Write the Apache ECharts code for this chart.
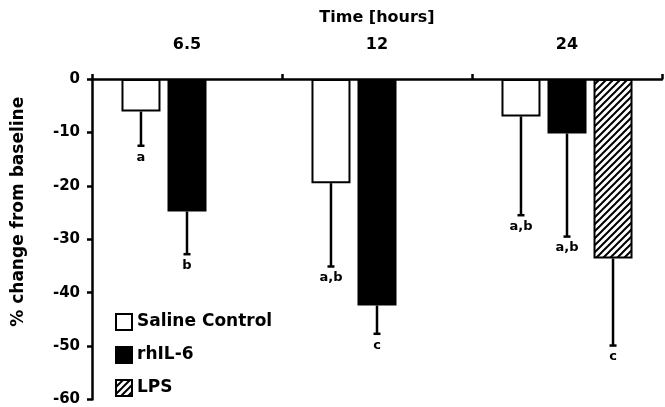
<!DOCTYPE html>
<html>
<head>
<meta charset="utf-8">
<script src="https://cdn.jsdelivr.net/npm/echarts@6/dist/echarts.min.js"></script>
<style>
html,body{margin:0;padding:0;background:#fff;}
#chart{width:665px;height:407px;}
</style>
</head>
<body>
<div id="chart"></div>
<script>
// ---- data ----
var categories = ['6.5', '12', '24'];
var seriesNames = ['Saline Control', 'rhIL-6', 'LPS'];
var salineMean = [-6.1, -19.5, -7.0];
var salineSE = [6.4, 15.6, 18.5];
var salineLetters = ['a', 'a,b', 'a,b'];
var rhil6Mean = [-24.8, -42.4, -10.2];
var rhil6SE = [8.0, 5.3, 19.3];
var rhil6Letters = ['b', 'c', 'a,b'];
var lpsMean = [null, null, -33.6];
var lpsSE = [null, null, 16.3];
var lpsLetters = [null, null, 'c'];
var yTicks = [0, -10, -20, -30, -40, -50, -60];

var FONT = 'DejaVu Sans';
var BAR_W = 39;
var BAR_GAP = 0.18;

// hatch pattern
function makeHatch() {
  var s = 7;
  var c = document.createElement('canvas');
  c.width = s; c.height = s;
  var ctx = c.getContext('2d');
  ctx.fillStyle = '#fff';
  ctx.fillRect(0, 0, s, s);
  ctx.strokeStyle = '#000';
  ctx.lineWidth = 2;
  ctx.beginPath();
  ctx.moveTo(-1, s + 1); ctx.lineTo(s + 1, -1);
  ctx.moveTo(-1, 1); ctx.lineTo(1, -1);
  ctx.moveTo(s - 1, s + 1); ctx.lineTo(s + 1, s - 1);
  ctx.stroke();
  return c;
}
var hatch = { image: makeHatch(), repeat: 'repeat' };

var means = [salineMean, rhil6Mean, lpsMean];
var ses = [salineSE, rhil6SE, lpsSE];
var letters = [salineLetters, rhil6Letters, lpsLetters];
var errData = [];
for (var s = 0; s < 3; s++) {
  for (var i = 0; i < categories.length; i++) {
    if (means[s][i] == null) continue;
    errData.push([i, means[s][i], means[s][i] - ses[s][i], s, letters[s][i]]);
  }
}

var chart = echarts.init(document.getElementById('chart'));
var barStyles = [
  { color: '#fff', borderColor: '#000', borderWidth: 2 },
  { color: '#000', borderColor: '#000', borderWidth: 2 },
  { color: hatch, borderColor: '#000', borderWidth: 2 }
];
var series = [];
for (var k = 0; k < 3; k++) {
  series.push({
    name: seriesNames[k],
    type: 'bar',
    data: means[k],
    barWidth: BAR_W,
    barGap: (BAR_GAP * 100) + '%',
    itemStyle: barStyles[k],
    emphasis: { disabled: true },
    z: 2
  });
}
series.push({
  type: 'custom',
  data: errData,
  z: 3,
  clip: false,
  renderItem: function (params, api) {
    var cat = api.value(0), m = api.value(1), e = api.value(2), s = api.value(3);
    var lbl = errData[params.dataIndex][4];
    var off = (s - 1) * BAR_W * (1 + BAR_GAP);
    var p0 = api.coord([cat, m]);
    var p1 = api.coord([cat, e]);
    var x = p0[0] + off;
    var children = [
      { type: 'line', shape: { x1: x, y1: p0[1], x2: x, y2: p1[1] }, style: { stroke: '#000', lineWidth: 2.5 } },
      { type: 'line', shape: { x1: x - 3.5, y1: p1[1], x2: x + 3.5, y2: p1[1] }, style: { stroke: '#000', lineWidth: 2.5 } }
    ];
    if (lbl) {
      children.push({ type: 'text', x: x, y: p1[1] + 5, style: { text: lbl, fill: '#000', font: 'bold 13px "' + FONT + '"', align: 'center', verticalAlign: 'top' } });
    }
    return { type: 'group', children: children };
  }
});

chart.setOption({
  animation: false,
  backgroundColor: '#fff',
  grid: { left: 92, right: 3, top: 79, bottom: 6, containLabel: false },
  legend: {
    data: seriesNames,
    orient: 'vertical',
    left: 110, top: 308,
    icon: 'rect',
    itemWidth: 16, itemHeight: 16, itemGap: 15,
    textStyle: { fontFamily: FONT, fontWeight: 'bold', fontSize: 17, color: '#000' },
    selectedMode: false
  },
  xAxis: {
    type: 'category',
    position: 'top',
    data: categories,
    name: 'Time [hours]',
    nameLocation: 'middle',
    nameGap: 53,
    nameTextStyle: { fontFamily: FONT, fontWeight: 'bold', fontSize: 16, color: '#000' },
    axisLine: { onZero: false, lineStyle: { color: '#000', width: 2.5 } },
    axisTick: { show: true, length: 5, lineStyle: { color: '#000', width: 2.5 } },
    axisLabel: { margin: 26, fontFamily: FONT, fontWeight: 'bold', fontSize: 16, color: '#000' },
    splitLine: { show: false }
  },
  yAxis: {
    type: 'value',
    min: yTicks[yTicks.length - 1], max: yTicks[0], interval: 10,
    name: '% change from baseline',
    nameLocation: 'middle',
    nameGap: 65,
    nameTextStyle: { fontFamily: FONT, fontWeight: 'bold', fontSize: 17, color: '#000', padding: [0, 0, 0, 55] },
    axisLine: { show: true, lineStyle: { color: '#000', width: 2.5 } },
    axisTick: { show: true, length: 5, lineStyle: { color: '#000', width: 2.5 } },
    axisLabel: { margin: 12, fontFamily: FONT, fontWeight: 'bold', fontSize: 15, color: '#000' },
    splitLine: { show: false }
  },
  series: series
});
</script>
</body>
</html>
